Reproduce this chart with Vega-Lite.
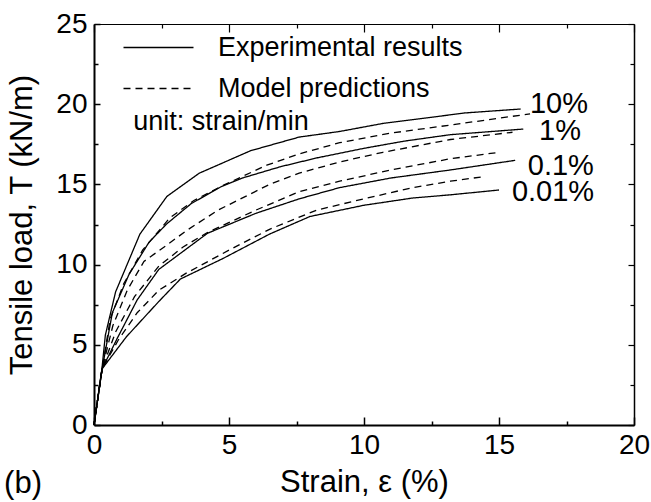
{
"$schema": "https://vega.github.io/schema/vega-lite/v6.json",
"width": 540, "height": 401,
"autosize": {"type": "none"},
"padding": {"left": 94, "top": 24, "right": 17, "bottom": 77},
"background": "white",
"config": {"view": {"stroke": null}, "font": "Liberation Sans", "text": {"font": "Liberation Sans"}},
"datasets": {
"curves": [
{"rate":"10%","type":"Experimental results","strain":0,"load":0},
{"rate":"10%","type":"Experimental results","strain":0.3,"load":3.6},
{"rate":"10%","type":"Experimental results","strain":0.42,"load":5.6},
{"rate":"10%","type":"Experimental results","strain":0.8,"load":8.3},
{"rate":"10%","type":"Experimental results","strain":1.7,"load":11.9},
{"rate":"10%","type":"Experimental results","strain":2.7,"load":14.25},
{"rate":"10%","type":"Experimental results","strain":3.9,"load":15.7},
{"rate":"10%","type":"Experimental results","strain":5.8,"load":17.1},
{"rate":"10%","type":"Experimental results","strain":7.6,"load":17.95},
{"rate":"10%","type":"Experimental results","strain":9.1,"load":18.3},
{"rate":"10%","type":"Experimental results","strain":10.7,"load":18.8},
{"rate":"10%","type":"Experimental results","strain":12.8,"load":19.25},
{"rate":"10%","type":"Experimental results","strain":13.7,"load":19.45},
{"rate":"10%","type":"Experimental results","strain":15.8,"load":19.7},
{"rate":"10%","type":"Model predictions","strain":0,"load":0},
{"rate":"10%","type":"Model predictions","strain":0.3,"load":3.5},
{"rate":"10%","type":"Model predictions","strain":0.6,"load":6.6},
{"rate":"10%","type":"Model predictions","strain":1.1,"load":8.8},
{"rate":"10%","type":"Model predictions","strain":1.8,"load":10.9},
{"rate":"10%","type":"Model predictions","strain":2.8,"load":12.9},
{"rate":"10%","type":"Model predictions","strain":3.7,"load":14.0},
{"rate":"10%","type":"Model predictions","strain":4.8,"load":14.95},
{"rate":"10%","type":"Model predictions","strain":6.4,"load":16.2},
{"rate":"10%","type":"Model predictions","strain":7.6,"load":16.9},
{"rate":"10%","type":"Model predictions","strain":9.1,"load":17.6},
{"rate":"10%","type":"Model predictions","strain":11,"load":18.2},
{"rate":"10%","type":"Model predictions","strain":13.2,"load":18.7},
{"rate":"10%","type":"Model predictions","strain":16.15,"load":19.4},
{"rate":"1%","type":"Experimental results","strain":0,"load":0},
{"rate":"1%","type":"Experimental results","strain":0.3,"load":3.5},
{"rate":"1%","type":"Experimental results","strain":0.68,"load":7.0},
{"rate":"1%","type":"Experimental results","strain":1.3,"load":9.4},
{"rate":"1%","type":"Experimental results","strain":2.04,"load":11.4},
{"rate":"1%","type":"Experimental results","strain":2.7,"load":12.55},
{"rate":"1%","type":"Experimental results","strain":3.6,"load":13.8},
{"rate":"1%","type":"Experimental results","strain":4.7,"load":14.85},
{"rate":"1%","type":"Experimental results","strain":5.5,"load":15.4},
{"rate":"1%","type":"Experimental results","strain":6.9,"load":16.1},
{"rate":"1%","type":"Experimental results","strain":8.25,"load":16.65},
{"rate":"1%","type":"Experimental results","strain":10,"load":17.25},
{"rate":"1%","type":"Experimental results","strain":11.5,"load":17.7},
{"rate":"1%","type":"Experimental results","strain":13.2,"load":18.1},
{"rate":"1%","type":"Experimental results","strain":15.9,"load":18.45},
{"rate":"1%","type":"Model predictions","strain":0,"load":0},
{"rate":"1%","type":"Model predictions","strain":0.3,"load":3.5},
{"rate":"1%","type":"Model predictions","strain":0.7,"load":6.2},
{"rate":"1%","type":"Model predictions","strain":1.23,"load":8.4},
{"rate":"1%","type":"Model predictions","strain":1.85,"load":10.2},
{"rate":"1%","type":"Model predictions","strain":2.6,"load":11.1},
{"rate":"1%","type":"Model predictions","strain":3.45,"load":12.15},
{"rate":"1%","type":"Model predictions","strain":4.6,"load":13.4},
{"rate":"1%","type":"Model predictions","strain":6.5,"load":15.0},
{"rate":"1%","type":"Model predictions","strain":7.6,"load":15.7},
{"rate":"1%","type":"Model predictions","strain":9.1,"load":16.4},
{"rate":"1%","type":"Model predictions","strain":10.7,"load":17.0},
{"rate":"1%","type":"Model predictions","strain":13.2,"load":17.8},
{"rate":"1%","type":"Model predictions","strain":15.5,"load":18.25},
{"rate":"0.1%","type":"Experimental results","strain":0,"load":0},
{"rate":"0.1%","type":"Experimental results","strain":0.3,"load":3.5},
{"rate":"0.1%","type":"Experimental results","strain":0.86,"load":5.4},
{"rate":"0.1%","type":"Experimental results","strain":1.6,"load":7.8},
{"rate":"0.1%","type":"Experimental results","strain":2.4,"load":9.7},
{"rate":"0.1%","type":"Experimental results","strain":4.2,"load":11.95},
{"rate":"0.1%","type":"Experimental results","strain":6.0,"load":13.2},
{"rate":"0.1%","type":"Experimental results","strain":7.6,"load":14.1},
{"rate":"0.1%","type":"Experimental results","strain":9.1,"load":14.8},
{"rate":"0.1%","type":"Experimental results","strain":11,"load":15.4},
{"rate":"0.1%","type":"Experimental results","strain":13.2,"load":15.9},
{"rate":"0.1%","type":"Experimental results","strain":15.6,"load":16.5},
{"rate":"0.1%","type":"Model predictions","strain":0,"load":0},
{"rate":"0.1%","type":"Model predictions","strain":0.3,"load":3.5},
{"rate":"0.1%","type":"Model predictions","strain":0.8,"load":5.8},
{"rate":"0.1%","type":"Model predictions","strain":1.5,"load":8.0},
{"rate":"0.1%","type":"Model predictions","strain":2.4,"load":9.9},
{"rate":"0.1%","type":"Model predictions","strain":3.3,"load":11.1},
{"rate":"0.1%","type":"Model predictions","strain":4.2,"load":12.0},
{"rate":"0.1%","type":"Model predictions","strain":6.0,"load":13.4},
{"rate":"0.1%","type":"Model predictions","strain":7.6,"load":14.55},
{"rate":"0.1%","type":"Model predictions","strain":9.1,"load":15.2},
{"rate":"0.1%","type":"Model predictions","strain":11,"load":15.9},
{"rate":"0.1%","type":"Model predictions","strain":13.2,"load":16.6},
{"rate":"0.1%","type":"Model predictions","strain":15.0,"load":17.0},
{"rate":"0.01%","type":"Experimental results","strain":0,"load":0},
{"rate":"0.01%","type":"Experimental results","strain":0.3,"load":3.5},
{"rate":"0.01%","type":"Experimental results","strain":1.2,"load":5.5},
{"rate":"0.01%","type":"Experimental results","strain":2.4,"load":7.7},
{"rate":"0.01%","type":"Experimental results","strain":3.2,"load":9.1},
{"rate":"0.01%","type":"Experimental results","strain":4.8,"load":10.4},
{"rate":"0.01%","type":"Experimental results","strain":6.5,"load":11.9},
{"rate":"0.01%","type":"Experimental results","strain":8.0,"load":13.0},
{"rate":"0.01%","type":"Experimental results","strain":10,"load":13.7},
{"rate":"0.01%","type":"Experimental results","strain":11.8,"load":14.15},
{"rate":"0.01%","type":"Experimental results","strain":13.2,"load":14.35},
{"rate":"0.01%","type":"Experimental results","strain":15.0,"load":14.65},
{"rate":"0.01%","type":"Model predictions","strain":0,"load":0},
{"rate":"0.01%","type":"Model predictions","strain":0.3,"load":3.5},
{"rate":"0.01%","type":"Model predictions","strain":0.9,"load":5.3},
{"rate":"0.01%","type":"Model predictions","strain":1.6,"load":7.0},
{"rate":"0.01%","type":"Model predictions","strain":2.4,"load":8.4},
{"rate":"0.01%","type":"Model predictions","strain":3.4,"load":9.45},
{"rate":"0.01%","type":"Model predictions","strain":5.0,"load":10.9},
{"rate":"0.01%","type":"Model predictions","strain":6.5,"load":12.2},
{"rate":"0.01%","type":"Model predictions","strain":8.25,"load":13.4},
{"rate":"0.01%","type":"Model predictions","strain":10,"load":14.1},
{"rate":"0.01%","type":"Model predictions","strain":11.8,"load":14.8},
{"rate":"0.01%","type":"Model predictions","strain":13.2,"load":15.2},
{"rate":"0.01%","type":"Model predictions","strain":14.5,"load":15.5}
],
"labels": [
{"label":"10%","strain":17.22,"load":20.0},
{"label":"1%","strain":17.26,"load":18.33},
{"label":"0.1%","strain":17.29,"load":16.15},
{"label":"0.01%","strain":17.0,"load":14.5}
],
"notes": [
{"note":"unit: strain/min","strain":1.45,"load":18.9}
],
"panel": [
{"note":"(b)","strain":-3.33,"load":-3.68}
]
},
"resolve": {"axis": {"x": "independent", "y": "independent"}},
"layer": [
{
"data": {"name": "curves"},
"mark": {"type": "line", "strokeWidth": 1.3, "color": "black"},
"encoding": {
"x": {"field": "strain", "type": "quantitative",
 "scale": {"domain": [0, 20], "nice": false, "zero": false},
 "axis": {"orient": "bottom", "values": [0,2.5,5,7.5,10,12.5,15,17.5,20],
  "labelExpr": "datum.value % 5 === 0 ? datum.label : ''",
  "labelOverlap": false, "labelFlush": false, "grid": false,
  "tickSize": {"condition": {"test": "datum.value % 5 === 0", "value": -8}, "value": -4},
  "tickColor": "black", "tickWidth": 1.5, "domainColor": "black", "domainWidth": 2,
  "labelFontSize": 28, "labelColor": "black", "labelPadding": 14,
  "title": "Strain, ε (%)", "titleFontSize": 31, "titleFontWeight": "normal", "titleColor": "black", "titlePadding": 4}},
"y": {"field": "load", "type": "quantitative",
 "scale": {"domain": [0, 25], "nice": false, "zero": false},
 "axis": {"orient": "left", "values": [0,2.5,5,7.5,10,12.5,15,17.5,20,22.5,25],
  "labelExpr": "datum.value % 5 === 0 ? datum.label : ''",
  "labelOverlap": false, "labelFlush": false, "grid": false,
  "tickSize": {"condition": {"test": "datum.value % 5 === 0", "value": -6}, "value": -4},
  "tickColor": "black", "tickWidth": 1.5, "domainColor": "black", "domainWidth": 2,
  "labelFontSize": 28, "labelColor": "black", "labelPadding": 13,
  "title": "Tensile load, T (kN/m)", "titleFontSize": 31, "titleFontWeight": "normal", "titleColor": "black", "titlePadding": 17}},
"strokeDash": {"field": "type", "type": "nominal",
 "scale": {"domain": ["Experimental results", "Model predictions"], "range": [[1, 0], [7, 5]]},
 "legend": {"orient": "none", "legendX": 51, "legendY": 10, "title": null, "padding": 0,
  "symbolType": "M-5,0H5", "symbolSize": 196, "symbolStrokeWidth": 1.3, "symbolStrokeColor": "black", "symbolFillColor": "transparent",
  "labelFontSize": 27, "labelColor": "black", "labelOffset": 46, "rowPadding": 13, "labelLimit": 0}},
"detail": {"field": "rate"}
}
},
{
"data": {"name": "labels"},
"mark": {"type": "text", "fontSize": 29, "color": "black", "align": "center", "baseline": "middle"},
"encoding": {
"x": {"field": "strain", "type": "quantitative",
 "axis": {"orient": "top", "values": [0,2.5,5,7.5,10,12.5,15,17.5,20], "labels": false, "title": null, "grid": false,
  "tickSize": {"condition": {"test": "datum.value % 5 === 0", "value": -8}, "value": -4},
  "tickColor": "black", "tickWidth": 1.2, "domainColor": "black", "domainWidth": 1.2}},
"y": {"field": "load", "type": "quantitative",
 "axis": {"orient": "right", "values": [0,2.5,5,7.5,10,12.5,15,17.5,20,22.5,25], "labels": false, "title": null, "grid": false,
  "tickSize": {"condition": {"test": "datum.value % 5 === 0", "value": -6}, "value": -4},
  "tickColor": "black", "tickWidth": 1.2, "domainColor": "black", "domainWidth": 1.5}},
"text": {"field": "label"}
}
},
{
"data": {"name": "notes"},
"mark": {"type": "text", "fontSize": 27, "color": "black", "align": "left", "baseline": "middle"},
"encoding": {
"x": {"field": "strain", "type": "quantitative", "axis": null},
"y": {"field": "load", "type": "quantitative", "axis": null},
"text": {"field": "note"}
}
},
{
"data": {"name": "panel"},
"mark": {"type": "text", "fontSize": 31, "color": "black", "align": "left", "baseline": "middle"},
"encoding": {
"x": {"field": "strain", "type": "quantitative", "axis": null},
"y": {"field": "load", "type": "quantitative", "axis": null},
"text": {"field": "note"}
}
}
]
}
